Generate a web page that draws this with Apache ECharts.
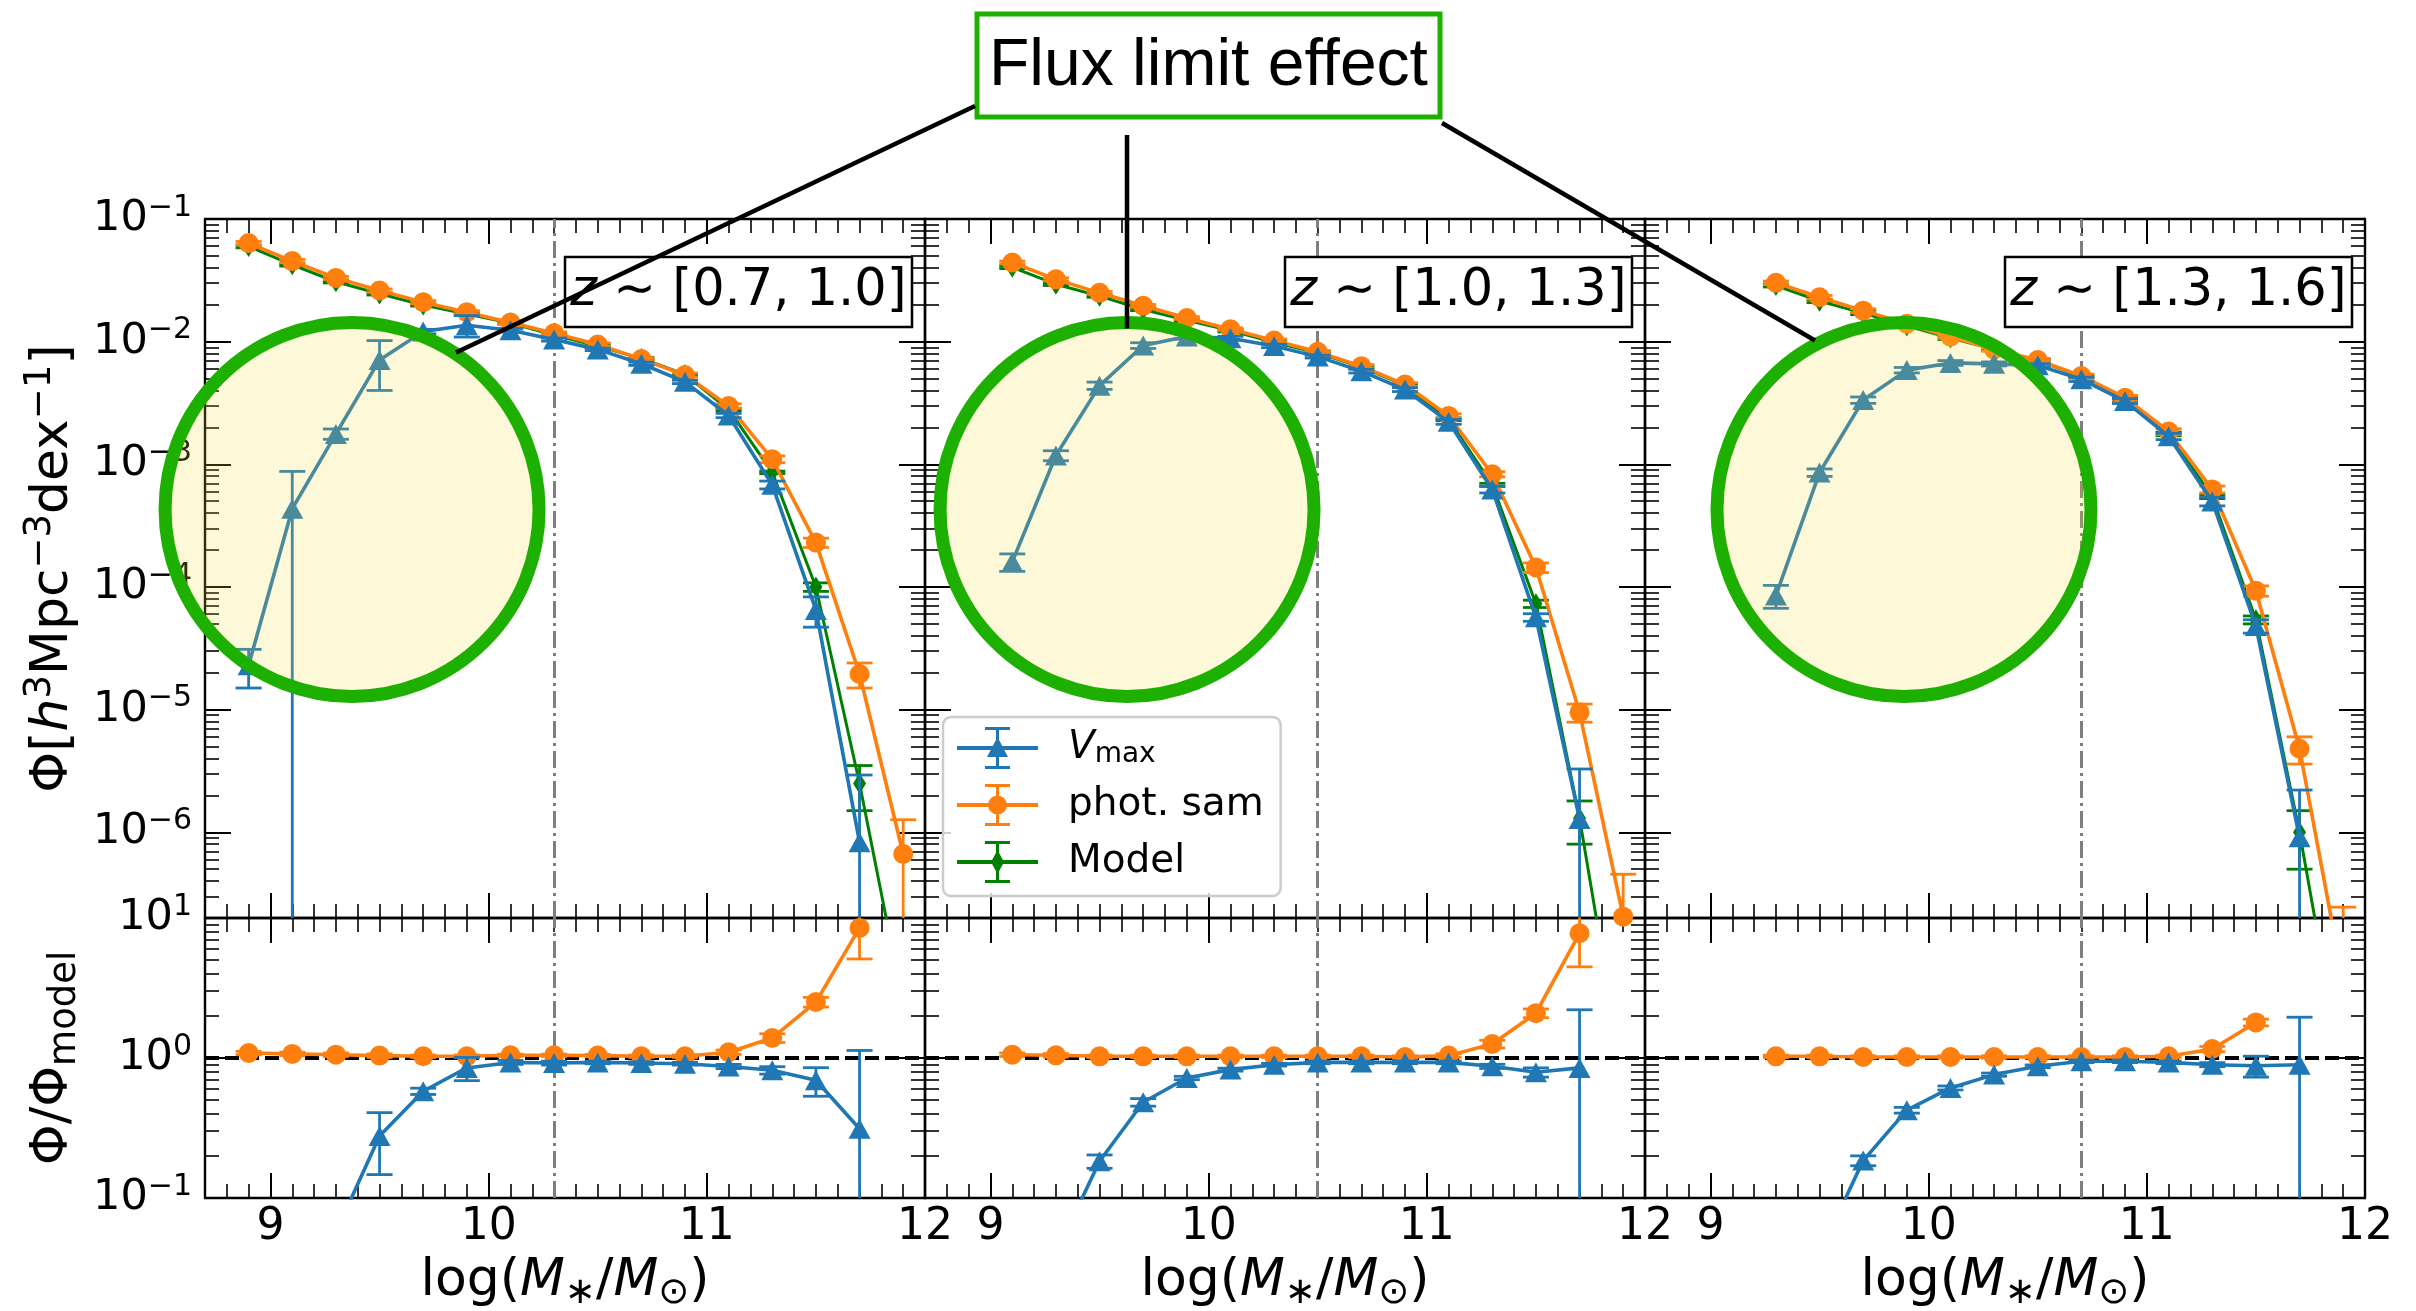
<!DOCTYPE html>
<html>
<head>
<meta charset="utf-8">
<script src="https://cdn.jsdelivr.net/npm/echarts/dist/echarts.min.js"></script>
<style>
  html, body { margin: 0; padding: 0; background: #ffffff; }
  #chart { width: 2416px; height: 1311px; }
</style>
</head>
<body>
<div id="chart"></div>
<script>
// Stellar mass functions in three redshift slices: Vmax estimate, photometric
// sample and model, with the ratio to the model underneath each panel.

const logMass = [8.9, 9.1, 9.3, 9.5, 9.7, 9.9, 10.1, 10.3, 10.5, 10.7, 10.9, 11.1, 11.3, 11.5, 11.7, 11.9];
const redshiftBins = ['[0.7, 1.0]', '[1.0, 1.3]', '[1.3, 1.6]'];
const massLimits = [10.3, 10.5, 10.7];
const massTicks = [9, 10, 11, 12];
const phiTicks = [1e-6, 1e-5, 1e-4, 1e-3, 1e-2, 1e-1];
const ratioTicks = [0.1, 1, 10];

// 0.7 < z < 1.0
const phiVmax_z1 = [2.3e-5, 4.35e-4, 1.77e-3, 7.1e-3, 1.21e-2, 1.36e-2, 1.24e-2, 1.04e-2, 8.65e-3, 6.6e-3, 4.7e-3, 2.5e-3, 6.8e-4, 6.5e-5, 8.3e-7, null];
const errVmax_z1 = [8e-6, 4.4e-4, 1.7e-4, 3.1e-3, 5e-4, 2.7e-3, 4e-4, 3e-4, 2e-4, 2e-4, 1.5e-4, 1e-4, 5e-5, 1.8e-5, 2.1e-6, null];
const phiPhot_z1 = [6.36e-2, 4.54e-2, 3.31e-2, 2.61e-2, 2.10e-2, 1.74e-2, 1.43e-2, 1.17e-2, 9.46e-3, 7.21e-3, 5.35e-3, 2.99e-3, 1.10e-3, 2.30e-4, 1.95e-5, 6.65e-7];
const errPhot_z1 = [2.0e-3, 1.4e-3, 1.0e-3, 8e-4, 6e-4, 5e-4, 4e-4, 3e-4, 3e-4, 2e-4, 2e-4, 1.2e-4, 7e-5, 2e-5, 4.5e-6, 6e-7];
const phiModel_z1 = [5.97e-2, 4.23e-2, 3.08e-2, 2.45e-2, 1.99e-2, 1.68e-2, 1.42e-2, 1.13e-2, 9.2e-3, 7.3e-3, 5.4e-3, 2.8e-3, 8.6e-4, 1.0e-4, 2.5e-6, 4e-8];
const errModel_z1 = [1.5e-3, 1.0e-3, 7e-4, 5e-4, 4e-4, 3e-4, 3e-4, 2e-4, 2e-4, 1.5e-4, 1e-4, 6e-5, 2e-5, 8e-6, 1e-6, 2e-8];
const ratioPhot_z1 = [1.085, 1.07, 1.056, 1.04, 1.03, 1.03, 1.045, 1.045, 1.04, 1.03, 1.03, 1.10, 1.39, 2.51, 8.5, null];
const errRatioPhot_z1 = [0.03, 0.03, 0.03, 0.03, 0.02, 0.02, 0.02, 0.02, 0.02, 0.02, 0.02, 0.04, 0.1, 0.2, 3.4, null];
const ratioVmax_z1 = [3.9e-4, 1.03e-2, 5.7e-2, 0.277, 0.579, 0.849, 0.93, 0.92, 0.93, 0.92, 0.91, 0.87, 0.817, 0.693, 0.312, null];
const errRatioVmax_z1 = [1e-4, 1e-2, 6e-3, 0.13, 0.03, 0.16, 0.03, 0.03, 0.02, 0.02, 0.02, 0.03, 0.05, 0.16, 0.82, null];

// 1.0 < z < 1.3
const phiVmax_z2 = [null, 1.6e-4, 1.18e-3, 4.38e-3, 9.3e-3, 1.10e-2, 1.066e-2, 9.23e-3, 7.55e-3, 5.75e-3, 4.07e-3, 2.22e-3, 6.24e-4, 5.65e-5, 1.28e-6, null];
const errVmax_z2 = [null, 2.6e-5, 1.1e-4, 3e-4, 5e-4, 5e-4, 4e-4, 3e-4, 2e-4, 2e-4, 1.5e-4, 1e-4, 4e-5, 4e-6, 2e-6, null];
const phiPhot_z2 = [null, 4.42e-2, 3.22e-2, 2.50e-2, 1.96e-2, 1.56e-2, 1.265e-2, 1.02e-2, 8.26e-3, 6.3e-3, 4.47e-3, 2.48e-3, 8.3e-4, 1.44e-4, 9.5e-6, 2.05e-7];
const errPhot_z2 = [null, 1.2e-3, 9e-4, 7e-4, 5e-4, 4e-4, 3e-4, 3e-4, 2e-4, 2e-4, 1.5e-4, 1e-4, 4e-5, 1.3e-5, 1.6e-6, 2.5e-7];
const phiModel_z2 = [null, 4.04e-2, 2.94e-2, 2.35e-2, 1.83e-2, 1.49e-2, 1.23e-2, 9.9e-3, 8.1e-3, 6.2e-3, 4.4e-3, 2.33e-3, 6.8e-4, 7.3e-5, 1.3e-6, 1e-8];
const errModel_z2 = [null, 1e-3, 7e-4, 5e-4, 4e-4, 3e-4, 3e-4, 2e-4, 2e-4, 1.5e-4, 1e-4, 6e-5, 2e-5, 5e-6, 5e-7, 5e-9];
const ratioPhot_z2 = [null, 1.056, 1.045, 1.028, 1.028, 1.028, 1.028, 1.028, 1.028, 1.028, 1.017, 1.04, 1.258, 2.09, 7.78, null];
const errRatioPhot_z2 = [null, 0.03, 0.03, 0.02, 0.02, 0.02, 0.02, 0.02, 0.02, 0.02, 0.02, 0.03, 0.08, 0.15, 3.3, null];
const ratioVmax_z2 = [null, 0.004, 0.04, 0.183, 0.483, 0.72, 0.826, 0.896, 0.93, 0.93, 0.93, 0.93, 0.872, 0.79, 0.85, null];
const errRatioVmax_z2 = [null, 0.001, 0.005, 0.02, 0.03, 0.02, 0.02, 0.02, 0.02, 0.02, 0.02, 0.02, 0.03, 0.06, 1.36, null];

// 1.3 < z < 1.6
const phiVmax_z3 = [null, null, 8.5e-5, 8.57e-4, 3.34e-3, 5.86e-3, 6.71e-3, 6.59e-3, 6.41e-3, 4.93e-3, 3.28e-3, 1.69e-3, 4.98e-4, 4.8e-5, 9.1e-7, null];
const errVmax_z3 = [null, null, 1.8e-5, 6e-5, 2e-4, 3e-4, 3e-4, 2.5e-4, 2e-4, 2e-4, 1.5e-4, 1e-4, 4e-5, 6e-6, 1.3e-6, null];
const phiPhot_z3 = [null, null, 3.02e-2, 2.30e-2, 1.79e-2, 1.40e-2, 1.10e-2, 8.65e-3, 7.08e-3, 5.25e-3, 3.49e-3, 1.85e-3, 6.24e-4, 9.3e-5, 4.8e-6, 6e-8];
const errPhot_z3 = [null, null, 1e-3, 8e-4, 6e-4, 4e-4, 3e-4, 3e-4, 2e-4, 2e-4, 1.5e-4, 1e-4, 4e-5, 9e-6, 1.2e-6, 1.85e-7];
const phiModel_z3 = [null, null, 2.87e-2, 2.14e-2, 1.71e-2, 1.34e-2, 1.07e-2, 8.65e-3, 7.0e-3, 5.2e-3, 3.4e-3, 1.77e-3, 5.45e-4, 5.4e-5, 1.0e-6, 1e-8];
const errModel_z3 = [null, null, 8e-4, 6e-4, 5e-4, 4e-4, 3e-4, 2e-4, 2e-4, 1.5e-4, 1e-4, 6e-5, 2e-5, 4e-6, 5e-7, 5e-9];
const ratioPhot_z3 = [null, null, 1.028, 1.028, 1.017, 1.017, 1.017, 1.017, 1.017, 1.017, 1.017, 1.028, 1.159, 1.795, null, null];
const errRatioPhot_z3 = [null, null, 0.02, 0.02, 0.02, 0.02, 0.02, 0.02, 0.02, 0.02, 0.02, 0.02, 0.05, 0.1, null, null];
const ratioVmax_z3 = [null, null, 0.003, 0.04, 0.185, 0.424, 0.611, 0.761, 0.872, 0.947, 0.947, 0.93, 0.896, 0.88, 0.896, null];
const errRatioVmax_z3 = [null, null, 0.001, 0.004, 0.015, 0.02, 0.02, 0.02, 0.02, 0.02, 0.02, 0.02, 0.03, 0.15, 1.06, null];

const panels = [
  { vmax: phiVmax_z1, vmaxErr: errVmax_z1, phot: phiPhot_z1, photErr: errPhot_z1, model: phiModel_z1, modelErr: errModel_z1,
    rPhot: ratioPhot_z1, rPhotErr: errRatioPhot_z1, rVmax: ratioVmax_z1, rVmaxErr: errRatioVmax_z1 },
  { vmax: phiVmax_z2, vmaxErr: errVmax_z2, phot: phiPhot_z2, photErr: errPhot_z2, model: phiModel_z2, modelErr: errModel_z2,
    rPhot: ratioPhot_z2, rPhotErr: errRatioPhot_z2, rVmax: ratioVmax_z2, rVmaxErr: errRatioVmax_z2 },
  { vmax: phiVmax_z3, vmaxErr: errVmax_z3, phot: phiPhot_z3, photErr: errPhot_z3, model: phiModel_z3, modelErr: errModel_z3,
    rPhot: ratioPhot_z3, rPhotErr: errRatioPhot_z3, rVmax: ratioVmax_z3, rVmaxErr: errRatioVmax_z3 }
];

// ---------------------------------------------------------------- layout & style
const FONT = '"DejaVu Sans", sans-serif';
const BLUE = '#1f77b4', ORANGE = '#ff7f0e', GREEN = '#008000', RING = '#1db000';
const GRID_LEFT = [205, 925, 1645], GRID_W = 720;
const TOP_Y = 219, TOP_H = 699, RAT_Y = 918, RAT_H = 280;
const MASS_MIN = 8.7, MASS_MAX = 12;
const PHI_MIN = 2e-7, PHI_MAX = 0.1, RAT_MIN = 0.1, RAT_MAX = 10;

const massMinor = [];
for (let k = 87; k <= 120; k++) if (k % 10 !== 0) massMinor.push(k / 10);
function logMinor(lo, hi) {
  const out = [];
  for (let e = -8; e <= 2; e++) for (let m = 2; m <= 9; m++) {
    const v = +(m * Math.pow(10, e)).toPrecision(3);
    if (v >= lo && v <= hi) out.push(v);
  }
  return out;
}
const phiMinor = logMinor(PHI_MIN, PHI_MAX);
const ratioMinor = logMinor(RAT_MIN, RAT_MAX);

const STYLE = {
  'Vmax':      { color: BLUE,   symbol: 'triangle', size: [22, 20], width: 3.6, z: 7 },
  'phot. sam': { color: ORANGE, symbol: 'circle',   size: 20,       width: 3.6, z: 5 },
  'Model':     { color: GREEN,  symbol: 'path://M0,-1L0.6,0L0,1L-0.6,0Z', size: [13, 21], width: 3, z: 3 }
};

const TICK_RICH = {
  b: { fontSize: 43, fontFamily: FONT, color: '#000', lineHeight: 52 },
  s: { fontSize: 30, fontFamily: FONT, color: '#000', lineHeight: 28, verticalAlign: 'top' }
};
const NAME_RICH = {
  n: { fontSize: 52, fontFamily: FONT, color: '#000', lineHeight: 62 },
  i: { fontSize: 52, fontFamily: FONT, color: '#000', lineHeight: 62, fontStyle: 'italic' },
  s: { fontSize: 37, fontFamily: FONT, color: '#000', lineHeight: 36, verticalAlign: 'top' },
  sub: { fontSize: 37, fontFamily: FONT, color: '#000', lineHeight: 36, verticalAlign: 'bottom' }
};
function powerLabel(v) {
  const n = Math.round(Math.log10(v));
  return '{b|10}{s|' + (n < 0 ? '\u2212' + (-n) : n) + '}';
}

// ---------------------------------------------------------------- grids & axes
const grids = [], xAxes = [], yAxes = [];
const majorTick = (vals, len) => ({ show: true, inside: true, length: len, customValues: vals, lineStyle: { color: '#000', width: 2 } });
const minorTick = (vals) => ({ show: true, inside: true, length: 14, customValues: vals, lineStyle: { color: '#000', width: 1.6 } });
const spine = { show: true, onZero: false, lineStyle: { color: '#000', width: 2.4 } };

for (let r = 0; r < 2; r++) {
  for (let c = 0; c < 3; c++) {
    const g = r * 3 + c;
    const isRatio = r === 1;
    grids.push({ left: GRID_LEFT[c], top: isRatio ? RAT_Y : TOP_Y, width: GRID_W, height: isRatio ? RAT_H : TOP_H,
                 containLabel: false, outerBoundsMode: 'none' });

    const xBase = { gridIndex: g, type: 'value', min: MASS_MIN, max: MASS_MAX, splitLine: { show: false } };
    xAxes.push(Object.assign({}, xBase, {
      position: 'bottom', axisLine: spine, axisTick: majorTick(massTicks, 25),
      axisLabel: { show: isRatio, customValues: massTicks, margin: 8, fontSize: 44, fontFamily: FONT, color: '#000' },
      name: isRatio ? '{n|log(}{i|M}{sub|\u2217}{n|/}{i|M}{sub|\u2299}{n|)}' : '',
      nameLocation: 'middle', nameGap: 52, nameTextStyle: { rich: NAME_RICH }
    }));
    xAxes.push(Object.assign({}, xBase, { position: 'bottom', axisLine: { show: false }, axisTick: minorTick(massMinor), axisLabel: { show: false } }));
    xAxes.push(Object.assign({}, xBase, { position: 'top', axisLine: spine, axisTick: majorTick(massTicks, 25), axisLabel: { show: false } }));
    xAxes.push(Object.assign({}, xBase, { position: 'top', axisLine: { show: false }, axisTick: minorTick(massMinor), axisLabel: { show: false } }));

    const yBase = { gridIndex: g, type: 'log', logBase: 10, min: isRatio ? RAT_MIN : PHI_MIN, max: isRatio ? RAT_MAX : PHI_MAX,
                    splitLine: { show: false } };
    const majors = isRatio ? ratioTicks : phiTicks;
    const minors = isRatio ? ratioMinor : phiMinor;
    yAxes.push(Object.assign({}, yBase, {
      position: 'left', axisLine: spine, axisTick: majorTick(majors, 26),
      axisLabel: { show: c === 0, customValues: majors, margin: 13, formatter: powerLabel, rich: TICK_RICH },
      name: c === 0 ? (isRatio ? '{n|\u03A6/\u03A6}{sub|model}'
                               : '{n|\u03A6[}{i|h}{s|3}{n|Mpc}{s|\u22123}{n|dex}{s|\u22121}{n|]}') : '',
      nameLocation: 'middle', nameRotate: 90, nameGap: 121, nameTextStyle: { rich: NAME_RICH }
    }));
    yAxes.push(Object.assign({}, yBase, { position: 'left', axisLine: { show: false }, axisTick: minorTick(minors), axisLabel: { show: false } }));
    yAxes.push(Object.assign({}, yBase, { position: 'right', axisLine: spine, axisTick: majorTick(majors, 26), axisLabel: { show: false } }));
    yAxes.push(Object.assign({}, yBase, { position: 'right', axisLine: { show: false }, axisTick: minorTick(minors), axisLabel: { show: false } }));
  }
}

// ---------------------------------------------------------------- series
function points(values) {
  return logMass.map((m, i) => (values[i] == null ? null : [m, values[i]])).filter(Boolean);
}
function pointsWithErr(values, errs) {
  return logMass.map((m, i) => (values[i] == null ? null : [m, values[i], errs[i]])).filter(Boolean);
}

// vertical error bar with caps, clipped to the panel
function errorBarItem(params, api) {
  const x = api.value(0), y = api.value(1), e = api.value(2);
  const cs = params.coordSys;
  const yTop = cs.y, yBot = cs.y + cs.height;
  const hi = api.coord([x, y + e]);
  const loVal = y - e;
  const loY = loVal > 0 ? api.coord([x, loVal])[1] : Infinity;
  const px = hi[0];
  const a = Math.max(hi[1], yTop), b = Math.min(loY, yBot);
  if (!(a < b)) return null;
  const style = { stroke: api.visual('color'), lineWidth: 2.8 };
  const half = 13;
  const children = [{ type: 'line', shape: { x1: px, y1: a, x2: px, y2: b }, style }];
  if (hi[1] >= yTop && hi[1] <= yBot) children.push({ type: 'line', shape: { x1: px - half, y1: hi[1], x2: px + half, y2: hi[1] }, style });
  if (loY >= yTop && loY <= yBot) children.push({ type: 'line', shape: { x1: px - half, y1: loY, x2: px + half, y2: loY }, style });
  return { type: 'group', children };
}

function lineSeries(name, g, values, extra) {
  const s = STYLE[name];
  return Object.assign({
    type: 'line', name, xAxisIndex: 4 * g, yAxisIndex: 4 * g, data: points(values),
    symbol: s.symbol, symbolSize: s.size, symbolKeepAspect: false, showSymbol: true, clip: true, z: s.z,
    itemStyle: { color: s.color, opacity: 1 }, lineStyle: { color: s.color, width: s.width },
    emphasis: { disabled: true }, silent: true
  }, extra || {});
}
function errorSeries(name, g, values, errs) {
  const s = STYLE[name];
  return {
    type: 'custom', name, xAxisIndex: 4 * g, yAxisIndex: 4 * g, data: pointsWithErr(values, errs),
    encode: { x: 0, y: 1 }, renderItem: errorBarItem, itemStyle: { color: s.color }, z: s.z - 1, silent: true
  };
}
const dashDot = { color: '#7f7f7f', width: 3, type: [17, 5, 3, 5] };
function limitLines(lim, withUnity) {
  const data = [{ xAxis: lim, lineStyle: dashDot }];
  if (withUnity) data.push({ yAxis: 1, lineStyle: { color: '#000', width: 3.8, type: [14, 6] } });
  return { silent: true, z: 1, symbol: ['none', 'none'], label: { show: false }, animation: false, data };
}

const series = [];
panels.forEach((p, c) => {
  const gTop = c, gRat = 3 + c;
  series.push(errorSeries('Model', gTop, p.model, p.modelErr));
  series.push(lineSeries('Model', gTop, p.model, { markLine: limitLines(massLimits[c], false) }));
  series.push(errorSeries('phot. sam', gTop, p.phot, p.photErr));
  series.push(lineSeries('phot. sam', gTop, p.phot));
  series.push(errorSeries('Vmax', gTop, p.vmax, p.vmaxErr));
  series.push(lineSeries('Vmax', gTop, p.vmax));

  series.push(errorSeries('phot. sam', gRat, p.rPhot, p.rPhotErr));
  series.push(lineSeries('phot. sam', gRat, p.rPhot, { markLine: limitLines(massLimits[c], true) }));
  series.push(errorSeries('Vmax', gRat, p.rVmax, p.rVmaxErr));
  series.push(lineSeries('Vmax', gRat, p.rVmax));
});

// legend handles: line + error bar with caps + marker
const BAR = 'M0 19H81V23H0Z M39 1H42V41H39Z M28 0H53V3H28Z M28 39H53V42H28Z';
const LEGEND_ICONS = {
  'Vmax': 'path://' + BAR + ' M40.5 10L51 30L30 30Z',
  'phot. sam': 'path://' + BAR + ' M31 21A9.5 9.5 0 1 1 50 21A9.5 9.5 0 1 1 31 21Z',
  'Model': 'path://' + BAR + ' M40.5 9L47 21L40.5 33L34 21Z'
};
const LEGEND_TEXT = { 'Vmax': '{i|V}{sub|max}', 'phot. sam': '{n|phot. sam}', 'Model': '{n|Model}' };

const option = {
  animation: false,
  backgroundColor: '#ffffff',
  textStyle: { fontFamily: FONT, color: '#000' },
  grid: grids,
  xAxis: xAxes,
  yAxis: yAxes,
  legend: {
    orient: 'vertical', left: 943, top: 717, padding: [10, 17, 13, 14],
    itemWidth: 81, itemHeight: 42, itemGap: 15, z: 30,
    backgroundColor: 'rgba(255,255,255,0.8)', borderColor: '#cccccc', borderWidth: 2.5, borderRadius: 8,
    itemStyle: { borderWidth: 0 },
    data: ['Vmax', 'phot. sam', 'Model'].map(n => ({ name: n, icon: LEGEND_ICONS[n] })),
    formatter: name => LEGEND_TEXT[name],
    textStyle: {
      fontSize: 39, lineHeight: 42, padding: [0, 0, 0, 25],
      rich: {
        n: { fontSize: 39, fontFamily: FONT, color: '#000', lineHeight: 42 },
        i: { fontSize: 39, fontFamily: FONT, color: '#000', lineHeight: 42, fontStyle: 'italic' },
        sub: { fontSize: 28, fontFamily: FONT, color: '#000', lineHeight: 30, verticalAlign: 'bottom' }
      }
    }
  },
  series
};

const chart = echarts.init(document.getElementById('chart'), null, { width: 2416, height: 1311 });
chart.setOption(option);

// ---------------------------------------------------------------- annotations
// highlighted low-mass regions (centre in data units of each upper panel)
const fluxRegions = [
  { mass: 9.374, phi: 4.28e-4 },
  { mass: 9.626, phi: 4.28e-4 },
  { mass: 9.887, phi: 4.28e-4 }
];
const RING_R = 187, RING_W = 13;
const callout = { x: 977, y: 14, width: 463, height: 103 };
// connector start (on the callout box) and end offset from each ring centre
const connectors = [
  { from: [975, 106], to: [104, -157] },
  { from: [1127, 135], to: [0, -181] },
  { from: [1442, 123], to: [-89, -169] }
];

const graphics = [];
fluxRegions.forEach((reg, i) => {
  const ctr = chart.convertToPixel({ xAxisIndex: 4 * i, yAxisIndex: 4 * i }, [reg.mass, reg.phi]);
  reg.px = ctr;
  graphics.push({
    type: 'circle', silent: true, z: 50,
    shape: { cx: ctr[0], cy: ctr[1], r: RING_R },
    style: { fill: 'rgba(245,222,60,0.2)', stroke: RING, lineWidth: RING_W }
  });
});

// redshift labels, anchored to the upper-right corner of each panel
redshiftBins.forEach((txt, c) => {
  const w = 347, h = 70, right = GRID_LEFT[c] + GRID_W - 13, top = 257;
  graphics.push({
    type: 'rect', silent: true, z: 55,
    shape: { x: right - w, y: top, width: w, height: h },
    style: { fill: '#ffffff', stroke: '#000000', lineWidth: 2.5 }
  });
  graphics.push({
    type: 'text', silent: true, z: 56, x: right - w / 2, y: top + h / 2,
    style: {
      text: '{i|z}{n| \u223C ' + txt + '}', align: 'center', verticalAlign: 'middle', fill: '#000',
      rich: {
        i: { fontSize: 51, fontFamily: FONT, fontStyle: 'italic' },
        n: { fontSize: 51, fontFamily: FONT }
      }
    }
  });
});

graphics.push({
  type: 'rect', silent: true, z: 60,
  shape: callout,
  style: { fill: '#ffffff', stroke: RING, lineWidth: 5 }
});
graphics.push({
  type: 'text', silent: true, z: 61,
  x: callout.x + callout.width / 2, y: callout.y + callout.height / 2 + 1,
  style: { text: 'Flux limit effect', font: '66px "Liberation Sans", Arial, sans-serif', fill: '#000',
           align: 'center', verticalAlign: 'middle' }
});
connectors.forEach((cn, i) => {
  const c = fluxRegions[i].px;
  graphics.push({
    type: 'line', silent: true, z: 62,
    shape: { x1: cn.from[0], y1: cn.from[1], x2: c[0] + cn.to[0], y2: c[1] + cn.to[1] },
    style: { stroke: '#000000', lineWidth: 4.5 }
  });
});

chart.setOption({ graphic: graphics });
</script>
</body>
</html>
